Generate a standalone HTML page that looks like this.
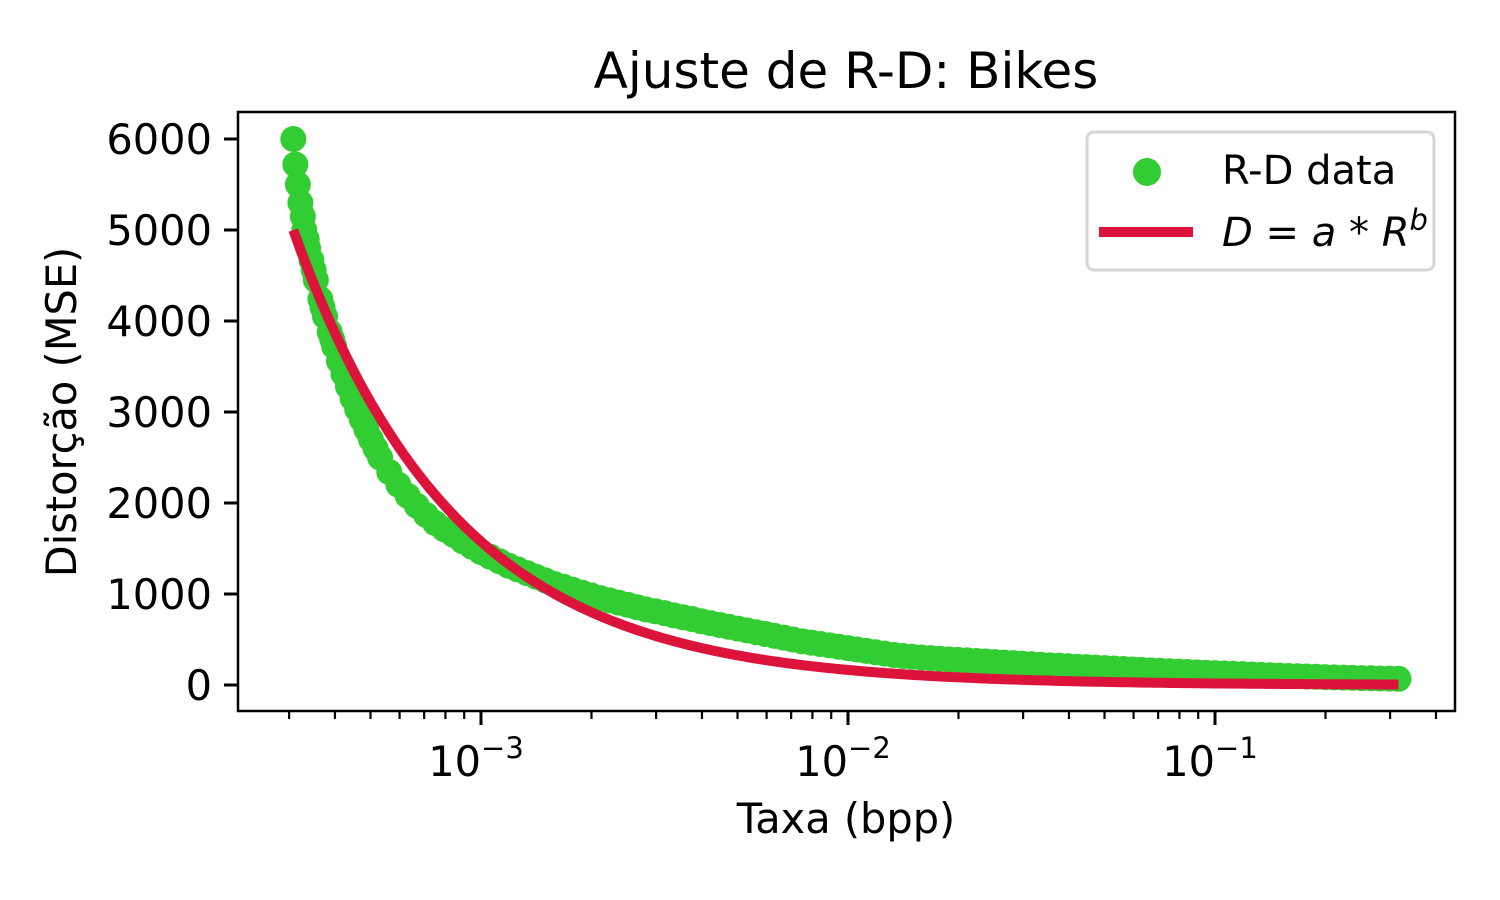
<!DOCTYPE html>
<html><head><meta charset="utf-8"><style>
html,body{margin:0;padding:0;background:#fff;}
svg{display:block;font-family:"DejaVu Sans","Liberation Sans",sans-serif;}
</style></head><body>
<svg id="chart" width="1500" height="900" viewBox="0 0 1500 900" xmlns="http://www.w3.org/2000/svg">
<rect x="0" y="0" width="1500" height="900" fill="#fff"/>
<text x="846" y="88" font-size="50" text-anchor="middle">Ajuste de R-D: Bikes</text>
<g id="marks"></g>
<rect x="238" y="112" width="1217" height="599" fill="none" stroke="#000" stroke-width="2.5"/>
<g id="axes"></g>
<text x="846" y="833" font-size="41.5" text-anchor="middle">Taxa (bpp)</text>
<text transform="translate(76,412) rotate(-90)" font-size="41.5" text-anchor="middle">Distorção (MSE)</text>
<g>
<rect x="1087" y="132" width="347" height="138" rx="7" fill="#fff" fill-opacity="0.8" stroke="#d5d5d5" stroke-width="3"/>
<circle cx="1147" cy="172" r="14" fill="#32cd32"/>
<text x="1222" y="184" font-size="40">R-D data</text>
<line x1="1099" y1="232" x2="1193" y2="232" stroke="#dc143c" stroke-width="10"/>
<text x="1222" y="246" font-size="40" font-style="italic">D<tspan font-style="normal"> = </tspan>a<tspan font-style="normal"> * </tspan>R<tspan dy="-16" font-size="29">b</tspan></text>
</g>
</svg>
<script>
const rates=[3.08e-4,3.12e-4,3.17e-4,3.22e-4,3.27e-4,3.30e-4,3.38e-4,3.45e-4,3.50e-4,3.65e-4,3.70e-4,3.87e-4,3.93e-4,4.10e-4,4.34e-4,4.60e-4,4.87e-4,5.16e-4,
3.350e-4,3.548e-4,3.758e-4,3.981e-4,4.217e-4,4.467e-4,4.732e-4,5.012e-4,5.309e-4,5.623e-4,5.957e-4,6.310e-4,6.683e-4,7.079e-4,7.499e-4,7.943e-4,8.414e-4,8.913e-4,9.441e-4,
1.000e-3,1.059e-3,1.122e-3,1.189e-3,1.259e-3,1.334e-3,1.413e-3,1.496e-3,1.585e-3,1.679e-3,1.778e-3,1.884e-3,1.995e-3,2.113e-3,2.239e-3,2.371e-3,2.512e-3,2.661e-3,2.818e-3,2.985e-3,3.162e-3,3.350e-3,3.548e-3,3.758e-3,3.981e-3,4.217e-3,4.467e-3,4.732e-3,5.012e-3,5.309e-3,5.623e-3,5.957e-3,6.310e-3,6.683e-3,7.079e-3,7.499e-3,7.943e-3,8.414e-3,8.913e-3,9.441e-3,
1.000e-2,1.059e-2,1.122e-2,1.189e-2,1.259e-2,1.334e-2,1.413e-2,1.496e-2,1.585e-2,1.679e-2,1.778e-2,1.884e-2,1.995e-2,2.113e-2,2.239e-2,2.371e-2,2.512e-2,2.661e-2,2.818e-2,2.985e-2,3.162e-2,3.350e-2,3.548e-2,3.758e-2,3.981e-2,4.217e-2,4.467e-2,4.732e-2,5.012e-2,5.309e-2,5.623e-2,5.957e-2,6.310e-2,6.683e-2,7.079e-2,7.499e-2,7.943e-2,8.414e-2,8.913e-2,9.441e-2,
0.1000,0.1059,0.1122,0.1189,0.1259,0.1334,0.1413,0.1496,0.1585,0.1679,0.1778,0.1884,0.1995,0.2113,0.2239,0.2371,0.2512,0.2661,0.2818,0.2985,0.3162];
const distortions=[6000,5720,5500,5300,5150,5000,4800,4670,4560,4240,4150,3880,3800,3560,3280,3030,2810,2600,
4900,4450,4050,3720,3420,3150,2920,2700,2500,2340,2200,2080,1970,1870,1780,1710,1650,1580,1520,
1460,1410,1360,1310,1270,1230,1190,1150,1110,1080,1045,1015,985,955,930,905,880,855,830,810,790,765,745,725,700,680,660,640,620,600,580,560,540,520,500,480,465,450,435,420,
405,390,375,360,345,330,318,310,302,295,288,282,276,270,264,258,252,246,240,234,228,222,216,211,206,201,196,191,186,181,176,171,166,161,156,151,147,143,139,135,
131,127,123,119,115,111,107,103,99,96,93,90,87,84,81,78,76,74,72,70,68];
const fitA=1.81;
const fitB=-0.98;
const yTicks=[0,1000,2000,3000,4000,5000,6000];
const xMajorExp=[-3,-2,-1];

const NS="http://www.w3.org/2000/svg";
function xs(r){return 481+(Math.log10(r)+3)*367;}
function ys(d){return 685-d*0.091;}
function mk(t,a,p){const e=document.createElementNS(NS,t);for(const k in a)e.setAttribute(k,a[k]);p.appendChild(e);return e;}
const marks=document.getElementById('marks');
const axes=document.getElementById('axes');
const sg=mk('g',{},marks);


rates.forEach((r,i)=>{
  const c=mk('circle',{cx:xs(r),cy:ys(distortions[i]),r:13,fill:'#32cd32'},sg);
  
  
});
const r0=rates[0],r1=rates[rates.length-1];
let d='';
for(let i=0;i<=200;i++){
  const lr=Math.log10(r0)+(Math.log10(r1)-Math.log10(r0))*i/200;
  const r=Math.pow(10,lr);
  d+=(i?'L':'M')+xs(r).toFixed(2)+' '+ys(fitA*Math.pow(r,fitB)).toFixed(2);
}
const fl=mk('path',{d:d,fill:'none',stroke:'#dc143c','stroke-width':10},marks);


yTicks.forEach(v=>{
  const y=ys(v);
  const l=mk('line',{x1:238,x2:224,y1:y,y2:y,stroke:'#000','stroke-width':3},axes);
  
  
  const t=mk('text',{x:212,y:y+15,'font-size':41.5,'text-anchor':'end'},axes);
  t.textContent=String(v);
  
  
});
xMajorExp.forEach(e=>{
  const x=xs(Math.pow(10,e));
  const l=mk('line',{x1:x,x2:x,y1:711,y2:725,stroke:'#000','stroke-width':3},axes);
  
  
  const t=mk('text',{x:x-5,y:776,'font-size':41.5,'text-anchor':'middle'},axes);
  
  
  t.textContent='10';
  const s=mk('tspan',{dy:-18,'font-size':29},t);
  s.textContent='\u2212'+Math.abs(e);
});
for(let e=-4;e<=-1;e++){
  for(let m=2;m<=9;m++){
    const x=xs(m*Math.pow(10,e));
    if(x<238||x>1455)continue;
    const l=mk('line',{x1:x,x2:x,y1:711,y2:719,stroke:'#000','stroke-width':2.2},axes);
    
    
  }
}
</script>
</body></html>
